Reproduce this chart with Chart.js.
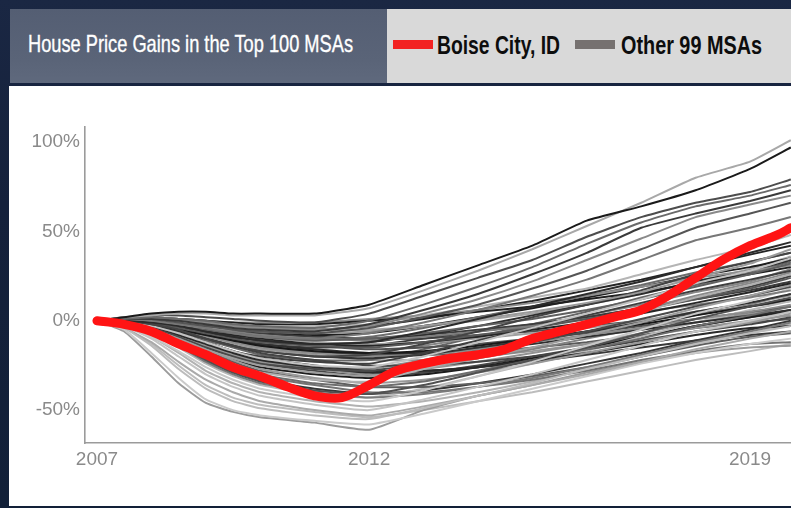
<!DOCTYPE html>
<html>
<head>
<meta charset="utf-8">
<script src="https://cdn.jsdelivr.net/npm/chart.js@4.4.1/dist/chart.umd.min.js"></script>
<style>
  html,body{margin:0;padding:0;}
  body{width:791px;height:508px;overflow:hidden;position:relative;
       background:linear-gradient(180deg,#1a2743 0%,#15213b 40%,#122038 100%);}
  .abs{position:absolute;}
  #titlebox{left:10px;top:9px;width:377px;height:74px;
            background:linear-gradient(180deg,#545e73 0%,#5a6478 70%,#5f697d 100%);}
  #legendbox{left:387px;top:9px;width:404px;height:74px;background:#d9d9d9;}
  #panel{left:9px;top:86px;width:782px;height:420px;background:#ffffff;}
  .fit{position:absolute;white-space:nowrap;line-height:1;transform-origin:0 0;display:inline-block;}
  #title{left:28px;top:32px;font-family:"Liberation Sans Narrow","Liberation Sans",Arial,sans-serif;
         font-size:24px;color:#ffffff;-webkit-text-stroke:0.35px #ffffff;}
  .leg{top:33px;font-family:"Liberation Sans Narrow","Liberation Sans",Arial,sans-serif;
       font-size:25px;font-weight:bold;color:#0d0d0d;}
  .sw{position:absolute;top:40px;width:40px;height:9px;}
  #chartwrap{left:0;top:0;width:791px;height:508px;}
</style>
</head>
<body>
<div id="titlebox" class="abs"></div>
<div id="legendbox" class="abs"></div>
<div id="panel" class="abs"></div>
<span id="title" class="fit" data-w="325">House Price Gains in the Top 100 MSAs</span>
<div class="sw" style="left:393px;background:#f22222;"></div>
<span class="fit leg" style="left:437px;" data-w="123">Boise City, ID</span>
<div class="sw" style="left:575px;background:#767170;"></div>
<span class="fit leg" style="left:621px;" data-w="141">Other 99 MSAs</span>
<div id="chartwrap" class="abs"><canvas id="c" width="791" height="508"></canvas></div>
<script>
// ---------------- DATA ----------------
const xTickValues = [2007, 2012, 2019];
const yTickValues = [-50, 0, 50, 100];

const boiseYears = [2007,2007.5,2008,2008.5,2009,2009.5,2010,2010.5,2011,2011.5,
                    2012,2012.5,2013,2013.5,2014,2014.5,2015,2015.5,2016,2016.5,
                    2017,2017.5,2018,2018.5,2019,2019.5,2019.75];
const boise = [0,-2,-6,-13,-19,-26,-31,-37,-42,-43,
               -36,-28,-24,-21,-19,-16,-10,-6,-2,2,
               6,14,24,34,42,48,52];

const years = [2007,2007.5,2008,2008.5,2009,2009.5,2010,2011,2012,2013,2014,2015,2016,2017,2018,2019,2019.75];

const msa01 = [0,2,4,5,5,4,4,4,9,20,31,42,56,64,73,85,97];
const msa02 = [0,2,3,4,4,3,3,3,7,17,28,40,53,66,80,89,101];
const msa03 = [0,2,3,3,2,1,0,-1,4,14,24,34,47,58,66,72,79];
const msa04 = [0,1,2,1,0,-2,-3,-4,0,9,19,30,43,55,64,70,76];
const msa05 = [0,1,1,0,-2,-4,-5,-6,-2,6,15,26,38,52,60,67,73];
const msa06 = [0,2,2,1,-1,-3,-4,-5,-3,4,12,22,34,46,58,65,70];
const msa07 = [0,1,1,-1,-3,-5,-6,-7,-4,2,9,18,28,40,52,60,66];
const msa08 = [0,1,0,-2,-4,-7,-9,-10,-7,-1,6,14,23,34,45,52,58];
const msa09 = [0,1,1,0,-1,-2,-3,-3,-2,3,8,13,18,26,34,41,48];
const msa10 = [0,0,-1,-3,-6,-9,-11,-13,-12,-6,1,8,15,22,30,38,44];
const msa11 = [0,1,0,-2,-4,-5,-6,-7,-6,-3,1,5,10,16,24,32,40];
const msa12 = [0,0,-2,-5,-10,-14,-17,-20,-19,-13,-6,2,9,17,26,33,38];
const msa13 = [0,-1,-3,-7,-12,-17,-21,-25,-26,-20,-12,-4,4,12,21,28,35];
const msa14 = [0,0,-1,-3,-5,-7,-9,-11,-10,-7,-3,1,6,12,19,26,32];
const msa15 = [0,1,2,1,0,-1,-2,-2,0,2,5,8,12,16,21,26,30];
const msa16 = [0,1,1,1,0,-1,-1,-1,1,3,6,10,14,19,24,28,31];
const msa17 = [0,-1,-3,-7,-12,-17,-20,-23,-24,-18,-11,-4,3,10,17,23,28];
const msa18 = [0,-2,-6,-12,-19,-25,-29,-33,-34,-27,-19,-11,-3,5,13,20,26];
const msa19 = [0,0,-2,-4,-7,-10,-12,-14,-15,-12,-8,-4,1,6,12,18,24];
const msa20 = [0,-1,-2,-4,-6,-8,-10,-13,-14,-12,-9,-5,-1,4,10,16,21];
const msa21 = [0,-2,-5,-10,-16,-21,-25,-29,-31,-27,-21,-15,-8,-1,7,14,20];
const msa22 = [0,-1,-4,-9,-15,-20,-24,-27,-28,-24,-18,-12,-6,1,8,14,19];
const msa23 = [0,0,-1,-2,-4,-6,-8,-10,-11,-9,-6,-3,1,5,9,13,17];
const msa24 = [0,-3,-9,-17,-26,-33,-38,-43,-45,-39,-31,-23,-14,-5,4,11,18];
const msa25 = [0,-1,-3,-6,-10,-14,-17,-20,-21,-19,-15,-11,-6,-1,5,10,15];
const msa26 = [0,0,-1,-3,-5,-7,-9,-12,-13,-12,-10,-7,-4,0,5,10,14];
const msa27 = [0,-2,-7,-14,-22,-29,-34,-39,-41,-36,-29,-22,-15,-7,1,8,13];
const msa28 = [0,-1,-2,-5,-8,-11,-14,-17,-18,-17,-14,-10,-6,-2,3,8,12];
const msa29 = [0,-1,-3,-6,-9,-12,-15,-18,-20,-19,-16,-12,-8,-4,1,5,9];
const msa30 = [0,-2,-6,-12,-19,-25,-30,-35,-37,-34,-28,-22,-16,-10,-3,3,8];
const msa31 = [0,-3,-10,-20,-30,-37,-42,-47,-50,-44,-37,-30,-22,-14,-6,0,5];
const msa32 = [0,-1,-2,-4,-7,-10,-13,-16,-18,-18,-16,-13,-9,-5,-1,3,6];
const msa33 = [0,-2,-5,-10,-16,-22,-27,-32,-35,-33,-29,-24,-18,-12,-6,-1,4];
const msa34 = [0,-4,-14,-27,-38,-45,-49,-53,-55,-49,-42,-35,-27,-20,-13,-7,-3];
const msa35 = [0,-1,-3,-6,-10,-14,-18,-22,-25,-25,-23,-20,-16,-11,-6,-2,2];
const msa36 = [0,-2,-7,-14,-23,-30,-35,-40,-43,-41,-37,-32,-26,-19,-12,-6,-1];
const msa37 = [0,-1,-4,-8,-13,-18,-22,-26,-29,-28,-26,-22,-18,-13,-8,-4,-3];
const msa38 = [0,-4,-12,-23,-33,-40,-45,-50,-53,-48,-42,-36,-30,-23,-16,-10,-6];
const msa39 = [0,-2,-5,-10,-17,-23,-28,-33,-37,-37,-35,-31,-26,-20,-14,-9,-7];
const msa40 = [0,-5,-18,-32,-44,-50,-53,-56,-58,-52,-45,-38,-31,-24,-18,-13,-10];
const msa41 = [0,-2,-6,-12,-19,-26,-31,-36,-40,-40,-37,-33,-28,-22,-17,-13,-12];
const msa42 = [0,-6,-20,-35,-46,-51,-54,-57,-61,-50,-42,-36,-29,-23,-18,-15,-14];
const msa43 = [0,-1,-3,-7,-12,-17,-21,-25,-28,-28,-26,-23,-19,-15,-11,-8,-6];
const msa44 = [0,-1,-2,-3,-5,-7,-9,-11,-9,-4,2,8,14,20,27,33,38];
const msa45 = [0,0,-1,-2,-3,-5,-6,-8,-7,-3,2,7,13,19,25,30,35];
const msa46 = [0,-2,-4,-8,-13,-18,-22,-26,-27,-22,-16,-9,-2,6,14,21,27];
const msa47 = [0,-1,-3,-5,-8,-11,-13,-15,-14,-10,-6,-2,2,7,12,17,22];
const msa48 = [0,-3,-8,-15,-24,-31,-36,-41,-43,-38,-31,-24,-17,-9,-1,6,11];
const msa49 = [0,-1,-2,-4,-6,-9,-11,-14,-16,-15,-13,-10,-7,-3,1,5,8];
const msa50 = [0,-2,-5,-9,-14,-19,-23,-27,-30,-27,-23,-18,-13,-7,-1,4,8];
const msa51 = [0,0,-2,-4,-7,-9,-11,-13,-12,-8,-3,3,9,15,22,28,34];
const msa52 = [0,-1,-3,-6,-11,-15,-19,-22,-22,-16,-9,-2,5,13,20,27,33];
const msa53 = [0,1,1,0,-2,-3,-4,-5,-5,-3,0,4,9,15,22,29,36];
const msa54 = [0,-1,-2,-3,-5,-6,-7,-9,-10,-8,-5,-2,2,7,13,19,25];
const msa55 = [0,-1,-4,-9,-14,-19,-23,-27,-29,-26,-21,-16,-10,-4,3,9,15];
const msa56 = [0,-2,-6,-11,-17,-22,-26,-30,-32,-30,-26,-21,-15,-9,-3,2,6];
const msa57 = [0,-3,-9,-18,-28,-35,-40,-45,-48,-45,-40,-34,-27,-20,-13,-7,-2];
const msa58 = [0,0,-1,-2,-3,-5,-7,-9,-10,-10,-8,-6,-3,0,4,8,11];
const msa59 = [0,-1,-3,-6,-10,-13,-16,-19,-22,-22,-20,-17,-13,-9,-4,0,3];
const msa60 = [0,-2,-6,-13,-21,-28,-33,-38,-41,-39,-35,-30,-24,-18,-11,-5,0];
const msa61 = [0,-4,-13,-25,-36,-43,-47,-51,-54,-50,-45,-40,-34,-28,-22,-17,-13];
const msa62 = [0,-1,-3,-5,-8,-11,-14,-17,-19,-19,-18,-15,-12,-8,-4,-1,1];
const msa63 = [0,1,1,0,-1,-3,-4,-5,-3,1,6,11,17,23,30,37,42];
const msa64 = [0,-1,-2,-5,-9,-12,-15,-18,-18,-14,-9,-3,3,9,16,22,29];
const msa65 = [0,-2,-5,-10,-15,-20,-24,-28,-31,-29,-25,-20,-15,-9,-3,2,5];

const otherSeries = [msa01,msa02,msa03,msa04,msa05,msa06,msa07,msa08,msa09,msa10,
  msa11,msa12,msa13,msa14,msa15,msa16,msa17,msa18,msa19,msa20,
  msa21,msa22,msa23,msa24,msa25,msa26,msa27,msa28,msa29,msa30,
  msa31,msa32,msa33,msa34,msa35,msa36,msa37,msa38,msa39,msa40,
  msa41,msa42,msa43,msa44,msa45,msa46,msa47,msa48,msa49,msa50,
  msa51,msa52,msa53,msa54,msa55,msa56,msa57,msa58,msa59,msa60,
  msa61,msa62,msa63,msa64,msa65];

// ---------------- STYLE ----------------
const grayShades = ['#1a1a1a','#a8a8a8','#4d4d4d','#6a6a6a','#3a3a3a','#8a8a8a','#555555','#777777',
  '#b5b5b5','#2b2b2b','#9a9a9a','#444444','#c2c2c2','#606060','#202020','#8f8f8f',
  '#3f3f3f','#b0b0b0','#585858','#262626','#9e9e9e','#4a4a4a','#7d7d7d','#c8c8c8',
  '#333333','#a0a0a0','#505050','#191919','#8c8c8c','#6e6e6e','#c4c4c4','#2f2f2f',
  '#999999','#bcbcbc','#454545','#7a7a7a','#2a2a2a','#aaaaaa','#5e5e5e','#cacaca',
  '#747474','#9c9c9c','#383838','#6c6c6c','#1e1e1e','#8a8a8a','#3c3c3c','#b8b8b8',
  '#515151','#929292','#2d2d2d','#666666','#a4a4a4','#3e3e3e','#828282','#1c1c1c',
  '#b2b2b2','#4f4f4f','#969696','#363636','#bdbdbd','#5a5a5a','#242424','#868686','#474747'];

// fit header texts to measured widths
document.querySelectorAll('.fit').forEach(el => {
  const target = parseFloat(el.dataset.w);
  const w = el.getBoundingClientRect().width;
  if (w > 0) el.style.transform = 'scaleX(' + (target / w) + ')';
});

const datasets = [];
datasets.push({
  label: 'Boise City, ID',
  data: boiseYears.map((x, i) => ({x: x, y: boise[i]})),
  borderColor: '#ff1414',
  borderWidth: 9,
  borderCapStyle: 'round',
  borderJoinStyle: 'round',
  tension: 0.35,
  pointRadius: 0,
  order: 0
});
otherSeries.forEach((s, k) => {
  datasets.push({
    label: 'Other ' + (k + 1),
    data: years.map((x, i) => ({x: x, y: s[i]})),
    borderColor: grayShades[k % grayShades.length],
    borderWidth: 2,
    tension: 0.15,
    pointRadius: 0,
    order: 1
  });
});

new Chart(document.getElementById('c'), {
  type: 'line',
  data: { datasets: datasets },
  options: {
    responsive: false,
    animation: false,
    devicePixelRatio: 1,
    layout: { padding: { top: 127, left: 0, right: 0, bottom: 0 } },
    plugins: { legend: { display: false }, tooltip: { enabled: false } },
    scales: {
      x: {
        type: 'linear',
        min: 2006.78,
        max: 2019.753,
        afterBuildTicks: sc => { sc.ticks = xTickValues.map(v => ({value: v})); },
        afterFit: sc => { sc.height = 65; },
        grid: { display: false, drawTicks: false },
        border: { display: true, color: '#9b9b9b', width: 1.6 },
        ticks: {
          padding: 5,
          color: '#8a8a8a',
          font: { family: '"Liberation Sans", Arial, sans-serif', size: 19 },
          maxRotation: 0,
          autoSkip: false,
          callback: v => String(v)
        }
      },
      y: {
        min: -68.4,
        max: 108.4,
        afterBuildTicks: sc => { sc.ticks = yTickValues.map(v => ({value: v})); },
        afterFit: sc => { sc.width = 85; },
        grid: { display: false, drawTicks: false },
        border: { display: true, color: '#9b9b9b', width: 1.6 },
        ticks: {
          padding: 5,
          color: '#8a8a8a',
          font: { family: '"Liberation Sans", Arial, sans-serif', size: 19 },
          callback: v => v + '%'
        }
      }
    }
  }
});
</script>
</body>
</html>
